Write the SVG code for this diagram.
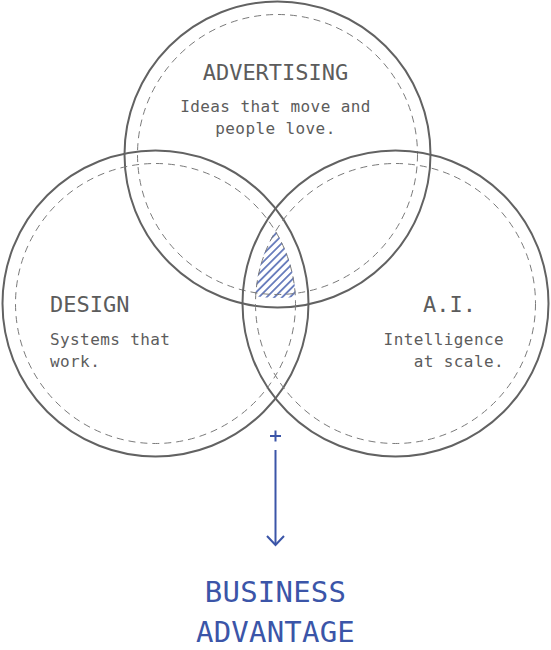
<svg xmlns="http://www.w3.org/2000/svg" width="551" height="650" viewBox="0 0 551 650">
<style>
.solid{fill:none;stroke:#626262;stroke-width:2}
.dash{fill:none;stroke:#7a7a7a;stroke-width:1;stroke-dasharray:7 5}
.t{font-family:"DejaVu Sans Mono","Liberation Mono",monospace;fill:#5c5c5c}
.h{font-size:22px}
.b{font-size:16px;letter-spacing:0.4px}
.blue{fill:#3b55a8;font-family:"DejaVu Sans Mono","Liberation Mono",monospace;font-size:29px;letter-spacing:0.2px}
</style>
<defs>
<pattern id="hatch" patternUnits="userSpaceOnUse" width="5.5" height="5.5" patternTransform="rotate(-45)">
<line x1="0" y1="2.75" x2="5.5" y2="2.75" stroke="#3b55a8" stroke-width="1.4"/>
</pattern>
<clipPath id="cL"><circle cx="155.5" cy="303.5" r="140.5"/></clipPath>
<clipPath id="cR"><circle cx="395.5" cy="303.5" r="140.5"/></clipPath>
</defs>
<g id="hatch-area">
<g clip-path="url(#cL)"><g clip-path="url(#cR)"><circle cx="277.5" cy="154.5" r="143.5" fill="url(#hatch)"/></g></g>
</g>
<g id="advertising">
<circle class="solid" cx="277.5" cy="154.5" r="153"/>
<circle class="dash" cx="277.5" cy="154.5" r="140"/>
<text class="t h" x="275.5" y="80" text-anchor="middle">ADVERTISING</text>
<text class="t b" x="275.5" y="112" text-anchor="middle">Ideas that move and</text>
<text class="t b" x="275.5" y="134" text-anchor="middle">people love.</text>
</g>
<g id="design">
<circle class="solid" cx="155.5" cy="303.5" r="153"/>
<circle class="dash" cx="155.5" cy="303.5" r="140"/>
<text class="t h" x="50" y="312">DESIGN</text>
<text class="t b" x="50" y="345">Systems that</text>
<text class="t b" x="50" y="367">work.</text>
</g>
<g id="ai">
<circle class="solid" cx="395.5" cy="303.5" r="153"/>
<circle class="dash" cx="395.5" cy="303.5" r="140"/>
<text class="t h" x="476" y="312" text-anchor="end">A.I.</text>
<text class="t b" x="504" y="345" text-anchor="end">Intelligence</text>
<text class="t b" x="504" y="367" text-anchor="end">at scale.</text>
</g>
<g id="connectors" stroke="#3b55a8" stroke-width="2" fill="none">
<path d="M270 436 H281 M275.5 430.5 V441.5"/>
<path d="M275.5 450 V545"/>
<path d="M267 536 L275.5 545 L284 536"/>
</g>
<g id="business-advantage">
<text class="blue" x="275.5" y="602" text-anchor="middle">BUSINESS</text>
<text class="blue" x="275.5" y="642" text-anchor="middle">ADVANTAGE</text>
</g>
</svg>
